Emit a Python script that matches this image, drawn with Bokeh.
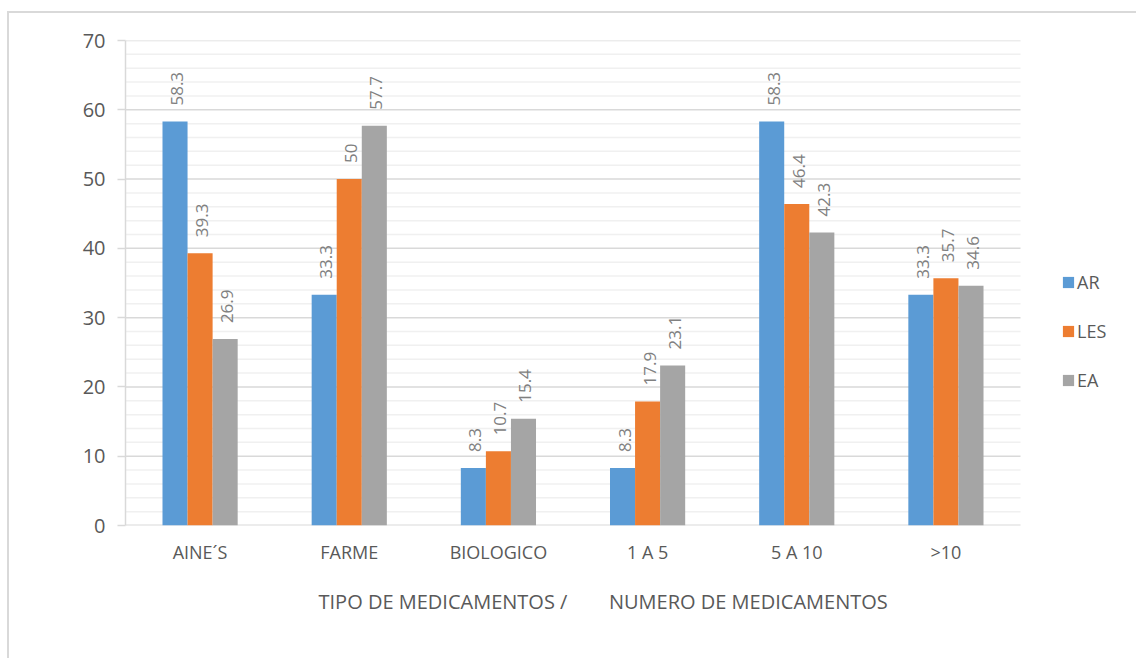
import math
from bokeh.plotting import figure
from bokeh.models import (ColumnDataSource, Range1d, FixedTicker,
                          Legend, LegendItem, Title)
from bokeh.transform import dodge
from bokeh.core.properties import value
from bokeh.embed import file_html
from bokeh.resources import INLINE

categories = ["AINE´S", "FARME", "BIOLOGICO", "1 A 5", "5 A 10", ">10"]
ar = [58.3, 33.3, 8.3, 8.3, 58.3, 33.3]
les = [39.3, 50, 10.7, 17.9, 46.4, 35.7]
ea = [26.9, 57.7, 15.4, 23.1, 42.3, 34.6]
series_names = ["AR", "LES", "EA"]
colors = ["#5b9bd5", "#ed7d31", "#a5a5a5"]
y_ticks = [0, 10, 20, 30, 40, 50, 60, 70]
y_minor = [v for v in range(0, 71, 2) if v % 10 != 0]
axis_title = "TIPO DE MEDICAMENTOS /" + "\u00a0" * 7 + " NUMERO DE MEDICAMENTOS"

FONT = "Open Sans"
n = len(categories)
xc = [i + 0.5 for i in range(n)]

src = ColumnDataSource(dict(
    xc=xc, AR=ar, LES=les, EA=ea,
    AR_t=[f"{v:g}" for v in ar], LES_t=[f"{v:g}" for v in les], EA_t=[f"{v:g}" for v in ea],
))

# frame spans 125..1138 px; one category = 149.17 px
p = figure(width=1129, height=647, x_range=Range1d(0, 6.791),
           y_range=Range1d(0, 70), output_backend="svg", toolbar_location=None,
           min_border_left=116, min_border_right=0, min_border_top=27, min_border_bottom=135)
p.styles = {"margin-left": "7px", "margin-top": "11px",
            "border-left": "2px solid #d9d9d9", "border-top": "2px solid #d9d9d9"}
p.outline_line_color = None
p.background_fill_color = "white"
p.border_fill_color = "white"

# gridlines (stop at the end of the last category)
p.xgrid.grid_line_color = None
p.ygrid.grid_line_color = None
p.segment(x0=0, x1=n, y0=y_minor, y1=y_minor, line_color="#f0f0f0", line_width=1.5)
p.segment(x0=0, x1=n, y0=y_ticks[1:], y1=y_ticks[1:], line_color="#d9d9d9", line_width=1.5)
p.segment(x0=0, x1=n, y0=[0], y1=[0], line_color="#d9d9d9", line_width=2)

bw = 0.168
offsets = [-bw, 0.0, bw]
renderers = []
for name, col, off in zip(series_names, colors, offsets):
    r = p.vbar(x=dodge("xc", off), top=name, width=bw, source=src,
               fill_color=col, line_color=None)
    renderers.append(r)
    p.text(x=dodge("xc", off), y=name, text=name + "_t", source=src,
           angle=math.pi / 2, text_align="left", text_baseline="middle",
           x_offset=2, y_offset=-16, text_font=value(FONT), text_font_size="17px",
           text_color="#808080")

# y axis
p.yaxis.ticker = FixedTicker(ticks=y_ticks)
p.yaxis.axis_line_color = "#d9d9d9"
p.yaxis.axis_line_width = 1.5
p.yaxis.major_tick_line_color = "#d9d9d9"
p.yaxis.major_tick_line_width = 1.5
p.yaxis.major_tick_out = 8
p.yaxis.major_tick_in = 0
p.yaxis.minor_tick_line_color = None
p.yaxis.major_label_text_font = FONT
p.yaxis.major_label_text_font_size = "20px"
p.yaxis.major_label_text_color = "#595959"
p.yaxis.major_label_standoff = 12

# x axis (category labels)
p.xaxis.ticker = FixedTicker(ticks=xc)
p.xaxis.major_label_overrides = {x: c for x, c in zip(xc, categories)}
p.xaxis.axis_line_color = None
p.xaxis.major_tick_line_color = None
p.xaxis.minor_tick_line_color = None
p.xaxis.major_label_text_font = FONT
p.xaxis.major_label_text_font_size = "18px"
p.xaxis.major_label_text_color = "#595959"
p.xaxis.major_label_standoff = 8

# axis title
p.add_layout(Title(text=axis_title, align="left", offset=193, standoff=38,
                   text_font=FONT, text_font_size="20px", text_font_style="normal",
                   text_color="#595959"), "below")

# legend
legend = Legend(items=[LegendItem(label=s, renderers=[r]) for s, r in zip(series_names, renderers)],
                location=(936, 133), glyph_width=14, glyph_height=14, label_height=20,
                spacing=25, padding=0, margin=0, label_standoff=2,
                label_text_font=FONT, label_text_font_size="18px", label_text_color="#595959",
                border_line_color=None, background_fill_alpha=0)
p.add_layout(legend)

open("out.html", "w").write(file_html(p, INLINE))
